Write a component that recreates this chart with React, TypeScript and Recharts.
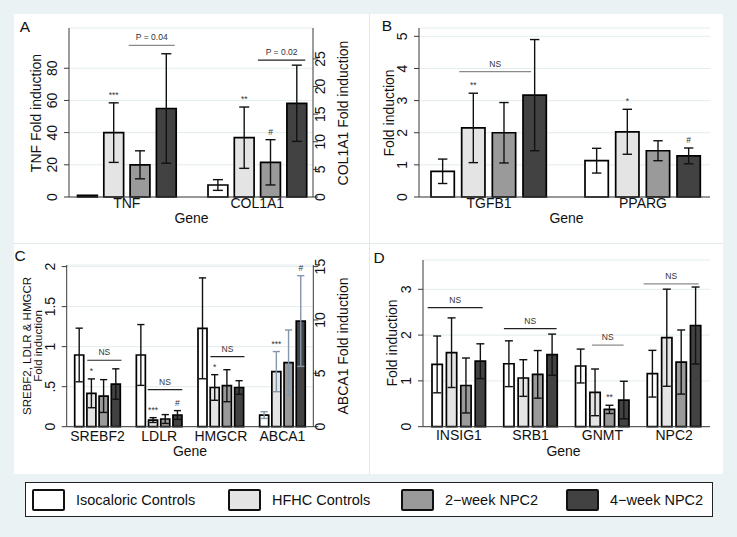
import React from 'react';
import { ComposedChart, Bar, ErrorBar, XAxis, YAxis, CartesianGrid, LabelList } from 'recharts';

const FONT = '"Liberation Sans", Arial, Helvetica, sans-serif';
const INK = '#111111';
const AXIS = '#3a3a3a';
const BG = '#eaf2f3';
const GRID = '#e3ecee';
const STROKE = 1.7;

const GROUPS = ['Isocaloric Controls', 'HFHC Controls', '2\u2212week NPC2', '4\u2212week NPC2'];
const GROUP_FILLS = ['#ffffff', '#e4e4e4', '#9a9a9a', '#424242'];

// A: TNF on the left axis, COL1A1 on the right axis
const A_GENES = ['TNF', 'COL1A1'];
const A_SIDES = ['left', 'right'];
const A_MEAN = [[1, 40, 20, 55], [2.17, 10.74, 6.28, 16.97]];
const A_ERR = [[0, 18.5, 8.7, 34], [0.97, 5.55, 4.1, 6.9]];
const A_MARKS = [['', '***', '', ''], ['', '**', '#', '']];
const A_LINES = [
  { gene: 0, text: 'P = 0.04', y: 94.2, from: 1.98, to: 3.73, grey: true },
  { gene: 1, text: 'P = 0.02', y: 24.8, from: 1.93, to: 3.73, grey: false },
];
const A_LEFT_TICKS = [0, 20, 40, 60, 80];
const A_RIGHT_TICKS = [0, 5, 10, 15, 20, 25];

// B
const B_GENES = ['TGFB1', 'PPARG'];
const B_SIDES = ['left', 'left'];
const B_MEAN = [[0.8, 2.15, 2.0, 3.17], [1.13, 2.03, 1.44, 1.28]];
const B_ERR = [[0.38, 1.08, 0.94, 1.73], [0.385, 0.7, 0.31, 0.245]];
const B_MARKS = [['', '**', '', ''], ['', '*', '', '#']];
const B_LINES = [{ gene: 0, text: 'NS', y: 3.9, from: 0.95, to: 3.29, grey: true }];
const B_TICKS = [0, 1, 2, 3, 4, 5];

// C: ABCA1 on the right axis
const C_GENES = ['SREBF2', 'LDLR', 'HMGCR', 'ABCA1'];
const C_SIDES = ['left', 'left', 'left', 'right'];
const C_MEAN = [
  [0.896, 0.417, 0.383, 0.533],
  [0.896, 0.083, 0.096, 0.146],
  [1.229, 0.49, 0.512, 0.49],
  [1.09, 5.16, 6.0, 9.9],
];
const C_ERR = [
  [0.335, 0.18, 0.205, 0.19],
  [0.38, 0.03, 0.055, 0.055],
  [0.63, 0.16, 0.2, 0.085],
  [0.32, 1.88, 3.06, 4.25],
];
const C_MARKS = [['', '*', '', ''], ['', '***', '', '#'], ['', '*', '', ''], ['', '***', '', '#']];
const C_LINES = [
  { gene: 0, text: 'NS', y: 0.83, from: 1.1, to: 3.9, grey: false },
  { gene: 1, text: 'NS', y: 0.4625, from: 1.0, to: 3.83, grey: false },
  { gene: 2, text: 'NS', y: 0.875, from: 1.09, to: 3.88, grey: false },
];
const C_LEFT_TICKS = [0, 0.5, 1, 1.5, 2];
const C_RIGHT_TICKS = [0, 5, 10, 15];

// D
const D_GENES = ['INSIG1', 'SRB1', 'GNMT', 'NPC2'];
const D_SIDES = ['left', 'left', 'left', 'left'];
const D_MEAN = [
  [1.36, 1.616, 0.9, 1.43],
  [1.375, 1.063, 1.143, 1.572],
  [1.325, 0.75, 0.378, 0.582],
  [1.157, 1.943, 1.412, 2.21],
];
const D_ERR = [
  [0.62, 0.76, 0.6, 0.38],
  [0.5, 0.4, 0.52, 0.45],
  [0.37, 0.51, 0.09, 0.41],
  [0.51, 1.06, 0.7, 0.84],
];
const D_MARKS = [['', '', '', ''], ['', '', '', ''], ['', '', '**', ''], ['', '', '', '']];
const D_LINES = [
  { gene: 0, text: 'NS', y: 2.6, from: -0.24, to: 3.58, grey: false },
  { gene: 1, text: 'NS', y: 2.14, from: 0.07, to: 3.73, grey: false },
  { gene: 2, text: 'NS', y: 1.78, from: 1.2, to: 3.4, grey: true },
  { gene: 3, text: 'NS', y: 3.12, from: -0.19, to: 3.63, grey: true },
];
const D_TICKS = [0, 1, 2, 3];

const LEGEND_X = [32, 228, 401, 566];

const fmtDot = (v: number) => (v > 0 && v < 1 ? String(v).replace(/^0/, '') : String(v));

function buildRows(genes: string[], sides: string[], means: number[][], errs: number[][]) {
  return genes.map((gene, i) => {
    const row: any = { gene, idx: i };
    const p = sides[i] === 'right' ? 'r' : 'l';
    means[i].forEach((m, k) => {
      row[p + k] = m;
      if (errs[i][k] > 0) row[p + k + 'e'] = errs[i][k];
    });
    return row;
  });
}

const YTick = (props: any) => {
  const { x, y, payload, fmt } = props;
  return (
    <text x={x} y={y} transform={`rotate(-90 ${x} ${y})`} textAnchor="middle" fontSize={14} fontFamily={FONT} fill={INK}>
      {fmt ? fmt(payload.value) : payload.value}
    </text>
  );
};

const XTick = (props: any) => {
  const { x, y, payload, off } = props;
  return (
    <text x={x} y={y + off} textAnchor="middle" fontSize={14} fontFamily={FONT} fill={INK}>
      {payload.value}
    </text>
  );
};

// value comes in as { v, i }: bar value and row index
function renderAnno(p: any, cfg: any, k: number) {
  const vb = p.viewBox || p;
  const { x, y, width, height } = vb;
  const val = p.value;
  if (!val || typeof val !== 'object') return null;
  const v = Number(val.v);
  const i = val.i;
  if (!v || x == null || isNaN(x)) return null;
  const ppu = height / v;
  const base = y + height;
  const parts: any[] = [];
  const mark = cfg.marks[i][k];
  if (mark) {
    const capY = base - (v + cfg.errs[i][k]) * ppu;
    parts.push(
      <text key="m" x={x + width / 2} y={capY - 5} textAnchor="middle" fontSize={8.5} fontFamily={FONT} fill="#333">
        {mark}
      </text>
    );
  }
  const means = cfg.means[i];
  const anchor = means.indexOf(Math.max(...means));
  if (k === anchor) {
    const slot = cfg.barSize + cfg.barGap;
    const g0 = x - anchor * slot - STROKE / 2;
    cfg.lines
      .filter((l: any) => l.gene === i)
      .forEach((l: any, j: number) => {
        const ly = base - l.y * ppu;
        const x1 = g0 + l.from * slot;
        const x2 = g0 + l.to * slot;
        parts.push(
          <line key={'l' + j} x1={x1} x2={x2} y1={ly} y2={ly} stroke={l.grey ? '#8a8a8a' : '#222'} strokeWidth={1.2} />,
          <text key={'t' + j} x={(x1 + x2) / 2} y={ly - 5} textAnchor="middle" fontSize={8.5} fontFamily={FONT} fill="#333">
            {l.text}
          </text>
        );
      });
  }
  return <g>{parts}</g>;
}

function Panel({ cfg }: { cfg: any }) {
  const rows = buildRows(cfg.genes, cfg.sides, cfg.means, cfg.errs);
  const hasRight = !!cfg.rightDomain;
  const axisProps = {
    axisLine: { stroke: AXIS },
    tickLine: { stroke: AXIS },
    tickSize: 5,
    tickMargin: 7,
    interval: 0 as const,
  };
  const bars = (side: string) =>
    GROUPS.map((g, k) => {
      const key = (side === 'right' ? 'r' : 'l') + k;
      return (
        <Bar
          key={key}
          name={g}
          dataKey={key}
          xAxisId={side === 'right' ? 'b' : 'a'}
          yAxisId={side}
          fill={GROUP_FILLS[k]}
          stroke="#000"
          strokeWidth={STROKE}
          isAnimationActive={false}
        >
          <ErrorBar
            dataKey={key + 'e'}
            width={cfg.cap}
            stroke={side === 'right' && cfg.rightErrColor ? cfg.rightErrColor : '#111'}
            strokeWidth={1.4}
            isAnimationActive={false}
          />
          <LabelList
            dataKey={(row: any) => (row[key] == null ? null : { v: row[key], i: row.idx })}
            content={(p: any) => renderAnno(p, cfg, k)}
          />
        </Bar>
      );
    });

  return (
    <div style={{ position: 'absolute', left: cfg.left, top: cfg.top }}>
      <ComposedChart
        width={cfg.width}
        height={cfg.height}
        data={rows}
        margin={cfg.margin}
        barSize={cfg.barSize}
        barGap={cfg.barGap}
      >
        <CartesianGrid vertical={false} stroke={GRID} xAxisId="a" yAxisId="left" />
        <XAxis
          xAxisId="a"
          dataKey="gene"
          height={cfg.xHeight}
          padding={cfg.xPad}
          axisLine={{ stroke: AXIS }}
          tickLine={false}
          tickSize={0}
          tickMargin={0}
          interval={0}
          tick={<XTick off={cfg.xOff} />}
        />
        {hasRight && <XAxis xAxisId="b" dataKey="gene" hide padding={cfg.xPad} />}
        <YAxis
          yAxisId="left"
          type="number"
          domain={cfg.leftDomain}
          ticks={cfg.leftTicks}
          width={cfg.leftWidth}
          tick={<YTick fmt={cfg.fmt} />}
          {...axisProps}
        />
        {hasRight && (
          <YAxis
            yAxisId="right"
            orientation="right"
            type="number"
            domain={cfg.rightDomain}
            ticks={cfg.rightTicks}
            width={cfg.rightWidth}
            tick={<YTick />}
            {...axisProps}
          />
        )}
        {bars('left')}
        {hasRight && bars('right')}
      </ComposedChart>
    </div>
  );
}

const PANELS = [
  {
    letter: 'A', lx: 25, ly: 27,
    left: 14, top: 14, width: 355, height: 229,
    margin: { top: 14, right: 0, bottom: 0, left: 0 },
    genes: A_GENES, sides: A_SIDES, means: A_MEAN, errs: A_ERR, marks: A_MARKS, lines: A_LINES,
    leftDomain: [0, 105], leftTicks: A_LEFT_TICKS, leftWidth: 55,
    rightDomain: [0, 30.6], rightTicks: A_RIGHT_TICKS, rightWidth: 56,
    xHeight: 46, xPad: { left: -7.5, right: -9.5 }, xOff: 11,
    barSize: 19.8, barGap: 6.5, cap: 5,
    titles: [{ text: 'TNF Fold induction', x: 36, y: 112.5, size: 14 }, { text: 'COL1A1 Fold induction', x: 343, y: 112.5, size: 14 }],
    gene: { x: 191.5, y: 218 },
  },
  {
    letter: 'B', lx: 387, ly: 26,
    left: 369, top: 14, width: 354, height: 229,
    margin: { top: 14, right: 13, bottom: 0, left: 0 },
    genes: B_GENES, sides: B_SIDES, means: B_MEAN, errs: B_ERR, marks: B_MARKS, lines: B_LINES,
    leftDomain: [0, 5.26], leftTicks: B_TICKS, leftWidth: 50,
    xHeight: 46, xPad: { left: -7, right: -10 }, xOff: 11,
    barSize: 23.3, barGap: 7.37, cap: 4.7,
    titles: [{ text: 'Fold induction', x: 389, y: 112.5, size: 14 }],
    gene: { x: 566.5, y: 218 },
  },
  {
    letter: 'C', lx: 20, ly: 256,
    left: 14, top: 243, width: 355, height: 231,
    margin: { top: 22, right: 0, bottom: 0, left: 0 },
    genes: C_GENES, sides: C_SIDES, means: C_MEAN, errs: C_ERR, marks: C_MARKS, lines: C_LINES,
    leftDomain: [0, 2.02], leftTicks: C_LEFT_TICKS, leftWidth: 52.7, fmt: fmtDot,
    rightDomain: [0, 15.15], rightTicks: C_RIGHT_TICKS, rightWidth: 55.7, rightErrColor: '#8396aa',
    xHeight: 47.3, xPad: { left: 0, right: 0 }, xOff: 14.5,
    barSize: 9.0, barGap: 3.2, cap: 3.6,
    titles: [
      { text: 'SREBF2, LDLR & HMGCR', x: 27.5, y: 345.8, size: 11.5 },
      { text: 'Fold induction', x: 38.5, y: 345.8, size: 11.5 },
      { text: 'ABCA1 Fold induction', x: 343, y: 345.8, size: 14 },
    ],
    gene: { x: 190, y: 450.5 },
  },
  {
    letter: 'D', lx: 379, ly: 258,
    left: 369, top: 243, width: 354, height: 231,
    margin: { top: 17, right: 13, bottom: 0, left: 0 },
    genes: D_GENES, sides: D_SIDES, means: D_MEAN, errs: D_ERR, marks: D_MARKS, lines: D_LINES,
    leftDomain: [0, 3.64], leftTicks: D_TICKS, leftWidth: 54,
    xHeight: 47.3, xPad: { left: 0, right: 0 }, xOff: 13.5,
    barSize: 10.3, barGap: 4.1, cap: 4,
    titles: [{ text: 'Fold induction', x: 391.7, y: 343, size: 14 }],
    gene: { x: 563.5, y: 450.5 },
  },
];

const centered = (x: number, y: number, extra: any = {}) => ({
  position: 'absolute' as const,
  left: x,
  top: y,
  whiteSpace: 'nowrap' as const,
  lineHeight: 1,
  color: INK,
  ...extra,
});

export default function App() {
  return (
    <div style={{ position: 'absolute', left: 0, top: 0, width: 737, height: 537, background: BG, fontFamily: FONT, overflow: 'hidden' }}>
      <div style={{ position: 'absolute', left: 14, top: 14, width: 709, height: 460, background: '#fff' }} />
      <div style={{ position: 'absolute', left: 369, top: 14, width: 1, height: 460, background: '#e1e9eb' }} />
      <div style={{ position: 'absolute', left: 14, top: 243, width: 709, height: 1, background: '#e1e9eb' }} />

      {PANELS.map((cfg) => (
        <Panel key={cfg.letter} cfg={cfg} />
      ))}

      {PANELS.map((cfg) => (
        <React.Fragment key={'t' + cfg.letter}>
          <div style={centered(cfg.lx, cfg.ly, { fontSize: 15.5, transform: 'translate(-50%,-50%)' })}>{cfg.letter}</div>
          {cfg.titles.map((t) => (
            <div key={t.text} style={centered(t.x, t.y, { fontSize: t.size, transform: 'translate(-50%,-50%) rotate(-90deg)' })}>
              {t.text}
            </div>
          ))}
          <div style={centered(cfg.gene.x, cfg.gene.y, { fontSize: 14, transform: 'translate(-50%,-50%)' })}>Gene</div>
        </React.Fragment>
      ))}

      <div style={{ position: 'absolute', left: 25, top: 482, width: 688, height: 35, boxSizing: 'border-box', border: '1px solid #222', background: '#fff' }}>
        {GROUPS.map((g, k) => (
          <div key={g} style={{ position: 'absolute', left: LEGEND_X[k] - 26, top: 0, height: 33, display: 'flex', alignItems: 'center' }}>
            <span style={{ display: 'inline-block', width: 33, height: 22, boxSizing: 'border-box', border: '2px solid #111', borderRadius: 2, background: GROUP_FILLS[k] }} />
            <span style={{ marginLeft: 11, fontSize: 14.5, color: INK }}>{g}</span>
          </div>
        ))}
      </div>
    </div>
  );
}
